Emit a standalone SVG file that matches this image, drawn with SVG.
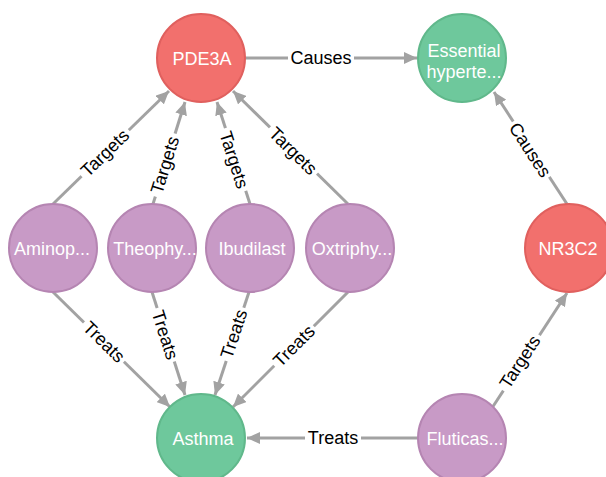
<svg xmlns="http://www.w3.org/2000/svg" width="606" height="477" viewBox="0 0 606 477">
<style>
.edge{stroke:#A2A2A2;stroke-width:3;fill:none;marker-end:url(#arr)}
.gap{fill:#ffffff}
.lbl{font-family:"Liberation Sans",Arial,Helvetica,sans-serif;font-size:18px;fill:#000000;text-anchor:middle}
.ntxt{font-family:"Liberation Sans",Arial,Helvetica,sans-serif;font-size:18px;fill:#ffffff;text-anchor:middle}
.red{fill:#F2706D;stroke:#E0605E;stroke-width:2}
.green{fill:#6EC89C;stroke:#60B88B;stroke-width:2}
.purple{fill:#C89AC6;stroke:#B585B2;stroke-width:2}
</style>
<defs>
<marker id="arr" markerUnits="userSpaceOnUse" markerWidth="14" markerHeight="12" refX="13" refY="6" orient="auto">
<path d="M0,0 L13,6 L0,12 z" fill="#A2A2A2"/>
</marker>
</defs>
<rect width="606" height="477" fill="#ffffff"/>
<g id="connectors">
<line class="edge" x1="245" y1="58" x2="417" y2="58"/>
<line class="edge" x1="567" y1="204" x2="494" y2="92"/>
<line class="edge" x1="53" y1="204" x2="169" y2="91"/>
<line class="edge" x1="153" y1="204" x2="185" y2="102"/>
<line class="edge" x1="250" y1="204" x2="217" y2="102"/>
<line class="edge" x1="348" y1="204" x2="233" y2="91"/>
<line class="edge" x1="53" y1="292" x2="170" y2="407"/>
<line class="edge" x1="152" y1="292" x2="185" y2="395"/>
<line class="edge" x1="249" y1="292" x2="215" y2="395"/>
<line class="edge" x1="348" y1="292" x2="233" y2="407"/>
<line class="edge" x1="418" y1="438" x2="247" y2="438"/>
<line class="edge" x1="492" y1="408" x2="567" y2="293"/>
<g transform="translate(321,58)"><rect class="gap" x="-33" y="-5" width="66" height="10"/><text class="lbl" y="6">Causes</text></g>
<g transform="translate(530,150) rotate(56.9)"><rect class="gap" x="-33" y="-5" width="66" height="10"/><text class="lbl" y="6">Causes</text></g>
<g transform="translate(105,153) rotate(-44.2)"><rect class="gap" x="-33" y="-5" width="66" height="10"/><text class="lbl" y="6">Targets</text></g>
<g transform="translate(165,165) rotate(-72.6)"><rect class="gap" x="-33" y="-5" width="66" height="10"/><text class="lbl" y="6">Targets</text></g>
<g transform="translate(234,160) rotate(72.1)"><rect class="gap" x="-33" y="-5" width="66" height="10"/><text class="lbl" y="6">Targets</text></g>
<g transform="translate(293,151) rotate(44.5)"><rect class="gap" x="-33" y="-5" width="66" height="10"/><text class="lbl" y="6">Targets</text></g>
<g transform="translate(104,342) rotate(44.5)"><rect class="gap" x="-28" y="-5" width="56" height="10"/><text class="lbl" y="6">Treats</text></g>
<g transform="translate(165,335) rotate(72.2)"><rect class="gap" x="-28" y="-5" width="56" height="10"/><text class="lbl" y="6">Treats</text></g>
<g transform="translate(234,334) rotate(-71.7)"><rect class="gap" x="-28" y="-5" width="56" height="10"/><text class="lbl" y="6">Treats</text></g>
<g transform="translate(294,346) rotate(-45)"><rect class="gap" x="-28" y="-5" width="56" height="10"/><text class="lbl" y="6">Treats</text></g>
<g transform="translate(333,438)"><rect class="gap" x="-28" y="-5" width="56" height="10"/><text class="lbl" y="6">Treats</text></g>
<g transform="translate(520,362) rotate(-56.9)"><rect class="gap" x="-33" y="-5" width="66" height="10"/><text class="lbl" y="6">Targets</text></g>
</g>
<g id="node-pde3a"><circle class="red" cx="201" cy="58" r="44"/><text class="ntxt" x="202" y="64.5">PDE3A</text></g>
<g id="node-essential"><circle class="green" cx="462" cy="58" r="44"/><text class="ntxt" x="464" y="57">Essential</text><text class="ntxt" x="464" y="78">hyperte...</text></g>
<g id="node-aminop"><circle class="purple" cx="53" cy="248" r="44"/><text class="ntxt" x="52" y="255">Aminop...</text></g>
<g id="node-theophy"><circle class="purple" cx="152" cy="248" r="44"/><text class="ntxt" x="155" y="255">Theophy...</text></g>
<g id="node-ibudilast"><circle class="purple" cx="250" cy="248" r="44"/><text class="ntxt" x="252" y="255">Ibudilast</text></g>
<g id="node-oxtriphy"><circle class="purple" cx="350" cy="248" r="44"/><text class="ntxt" x="352" y="255">Oxtriphy...</text></g>
<g id="node-nr3c2"><circle class="red" cx="569" cy="248" r="44"/><text class="ntxt" x="568" y="255">NR3C2</text></g>
<g id="node-asthma"><circle class="green" cx="201" cy="438" r="44"/><text class="ntxt" x="203" y="445">Asthma</text></g>
<g id="node-fluticas"><circle class="purple" cx="462" cy="438" r="44"/><text class="ntxt" x="465" y="445">Fluticas...</text></g>
</svg>
